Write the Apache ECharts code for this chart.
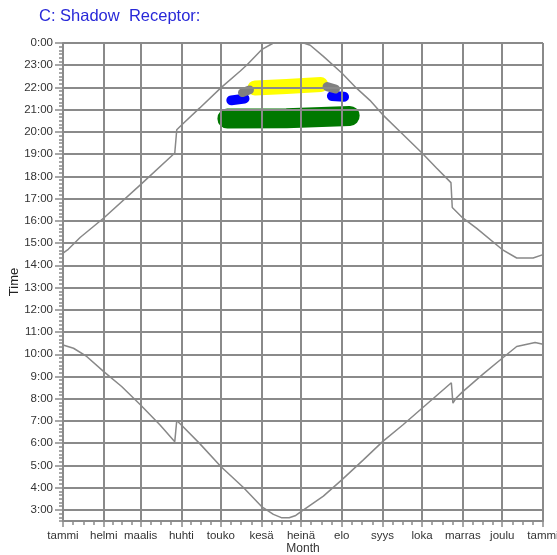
<!DOCTYPE html>
<html>
<head>
<meta charset="utf-8">
<script src="https://cdn.jsdelivr.net/npm/echarts@6/dist/echarts.min.js"></script>
<style>
html,body{margin:0;padding:0;background:#fff;}
#chart{width:557px;height:555px;}
</style>
</head>
<body>
<div id="chart"></div>
<script>
// ---- data (x = day of year, y = hour of day) ----
const monthNames = ['tammi','helmi','maalis','huhti','touko','kesä','heinä','elo','syys','loka','marras','joulu'];
const hourTicks = [3,4,5,6,7,8,9,10,11,12,13,14,15,16,17,18,19,20,21,22,23,24];

const sunsetDay  = [0, 4, 13, 31, 59, 85, 86.5, 90, 104, 120, 134.6, 140, 151, 160, 183, 188, 198, 212, 223, 233.4, 243, 256, 273, 284, 295, 296, 304, 314.6, 334, 345, 357.5, 365];
const sunsetHour = [14.55, 14.72, 15.25, 16.13, 17.63, 19.05, 20.1, 20.3, 21.08, 21.98, 22.73, 23.02, 23.7, 24.0, 24.0, 23.9, 23.4, 22.65, 21.98, 21.42, 20.78, 20.03, 19.05, 18.38, 17.72, 16.6, 16.13, 15.66, 14.71, 14.33, 14.33, 14.48];

const sunriseDay  = [0, 8, 18, 31, 44.6, 59, 73.8, 85, 86.5, 90, 104, 120, 137, 151, 160, 166, 172, 177, 181, 198, 212, 228.4, 243, 258.8, 273, 295.3, 296.5, 299, 304, 319.6, 334, 345, 359, 365];
const sunriseHour = [10.42, 10.27, 9.9, 9.22, 8.55, 7.72, 6.82, 6.07, 7.02, 6.82, 5.98, 4.95, 4.02, 3.15, 2.8, 2.65, 2.65, 2.75, 2.92, 3.62, 4.35, 5.25, 6.07, 6.84, 7.57, 8.72, 7.8, 8.03, 8.32, 9.12, 9.82, 10.35, 10.53, 10.45];

// shadow flicker periods (receptor C)
const yellowDay  = [146, 170, 196];
const yellowHour = [21.98, 22.04, 22.13];
const blueLeftDay  = [128, 138];
const blueLeftHour = [21.42, 21.5];
const blueRightDay  = [204.5, 213.7];
const blueRightHour = [21.62, 21.58];
const grayLeftDay  = [136.5, 141.8];
const grayLeftHour = [21.77, 21.89];
const grayRightDay  = [200.8, 207.2];
const grayRightHour = [22.04, 21.93];
const greenDay  = [125, 170, 218];
const greenHour = [20.6, 20.62, 20.72];

// ---- build ----
const DAY = 86400000;
const BASE = Date.UTC(2023, 0, 1);
const toXY = (days, hours) => days.map((d, i) => [BASE + d * DAY, hours[i]]);

const FONT = 'Liberation Sans, Arial, sans-serif';
const GRID = '#8a8a8a';
const T = 'rgba(0,0,0,0)';

function blob(days, hours, color, width) {
  return {
    type: 'line', data: toXY(days, hours), symbol: 'none', silent: true, z: 1,
    lineStyle: { color: color, width: width, cap: 'round', join: 'round' }
  };
}

const chart = echarts.init(document.getElementById('chart'), null, { renderer: 'canvas' });
chart.setOption({
  animation: false,
  useUTC: true,
  backgroundColor: '#fff',
  title: {
    text: 'C: Shadow  Receptor:', left: 34, top: 3,
    textStyle: { color: '#2828d8', fontSize: 16.5, fontWeight: 'normal', fontFamily: FONT }
  },
  grid: { left: 63, right: 14, top: 43, bottom: 34, containLabel: false, outerBoundsMode: 'none' },
  xAxis: [{
    type: 'time', min: BASE, max: BASE + 365 * DAY, splitNumber: 12, z: 3,
    name: 'Month', nameLocation: 'middle', nameGap: 22, nameMoveOverlap: false,
    nameTextStyle: { color: '#333', fontSize: 12, fontFamily: FONT },
    axisLine: { show: true, lineStyle: { color: GRID, width: 2 } },
    axisTick: { show: true, length: 6, lineStyle: { color: GRID, width: 1.5 } },
    minorTick: { show: true, splitNumber: 4, length: 4, lineStyle: { color: GRID, width: 1.5 } },
    axisLabel: {
      formatter: (v) => monthNames[new Date(v).getUTCMonth()],
      color: '#333', fontSize: 11.5, fontFamily: FONT, margin: 9,
      showMinLabel: true, showMaxLabel: true, hideOverlap: false, fontWeight: 'normal'
    },
    splitLine: { show: true, lineStyle: { color: GRID, width: 2 } }
  }],
  yAxis: [{
    type: 'value', min: 2.5, max: 24, interval: 1 / 6, z: 3,
    name: 'Time', nameLocation: 'middle', nameGap: 42, nameMoveOverlap: false,
    nameTextStyle: { color: '#222', fontSize: 13, fontFamily: FONT },
    axisLine: { show: true, lineStyle: { color: GRID, width: 2 } },
    axisTick: { show: true, length: 4, lineStyle: { color: GRID, width: 1.5 } },
    axisLabel: {
      formatter: (v) => { const r = Math.round(v); return Math.abs(v - r) < 1e-6 ? (r % 24) + ':00' : ''; },
      color: '#333', fontSize: 11.5, fontFamily: FONT, margin: 10
    },
    splitLine: { show: true, lineStyle: { color: [T, T, T, GRID, T, T], width: 2 } }
  }, {
    type: 'value', min: 2.5, max: 24, interval: 1 / 6, position: 'left', offset: 0, z: 3,
    axisLine: { show: false }, axisLabel: { show: false }, splitLine: { show: false },
    axisTick: { show: true, length: 8, customValues: hourTicks, lineStyle: { color: GRID, width: 1.5 } }
  }],
  series: [
    blob(yellowDay, yellowHour, '#ffff00', 15),
    blob(blueLeftDay, blueLeftHour, '#0000ff', 10),
    blob(blueRightDay, blueRightHour, '#0000ff', 10),
    blob(grayLeftDay, grayLeftHour, '#808080', 9),
    blob(grayRightDay, grayRightHour, '#808080', 9),
    blob(greenDay, greenHour, '#007800', 20),
    { type: 'line', data: toXY(sunsetDay, sunsetHour), symbol: 'none', z: 4, silent: true,
      lineStyle: { color: '#888', width: 1.5 } },
    { type: 'line', data: toXY(sunriseDay, sunriseHour), symbol: 'none', z: 4, silent: true,
      lineStyle: { color: '#888', width: 1.5 } }
  ]
});
</script>
</body>
</html>
